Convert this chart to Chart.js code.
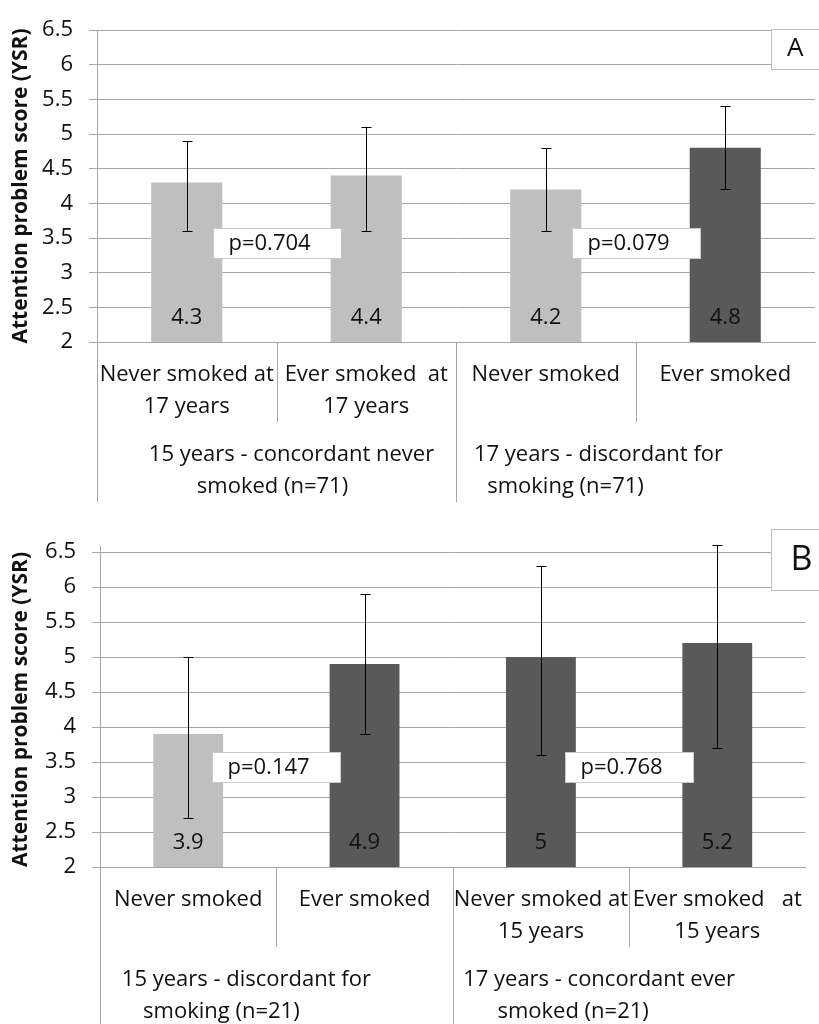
<!DOCTYPE html>
<html><head><meta charset="utf-8">
<script src="https://cdn.jsdelivr.net/npm/chart.js@4"></script>
<style>
html,body{margin:0;padding:0;background:#fff;}
#wrap{position:relative;width:819px;height:1024px;overflow:hidden;background:#fff;}
.panel{position:absolute;left:0;width:819px;height:512px;}
</style></head><body>
<div id="wrap">
<div class="panel" style="top:0"><canvas id="cA" width="819" height="512"></canvas></div>
<div class="panel" style="top:512px"><canvas id="cB" width="819" height="512"></canvas></div>
</div>
<script>
// ---------- data ----------
const yTicks = [2, 2.5, 3, 3.5, 4, 4.5, 5, 5.5, 6, 6.5];
const yTitle = "Attention problem score (YSR)";

const catsA  = [["Never smoked at", "17 years"], ["Ever smoked  at", "17 years"], ["Never smoked"], ["Ever smoked"]];
const meansA = [4.3, 4.4, 4.2, 4.8];
const lowA   = [3.6, 3.6, 3.6, 4.2];
const highA  = [4.9, 5.1, 4.8, 5.4];
const smokedA = [false, false, false, true];
const groupsA = [["15 years - concordant never", "smoked (n=71)"], ["17 years - discordant for", "smoking (n=71)"]];
const pvalsA = ["p=0.704", "p=0.079"];

const catsB  = [["Never smoked"], ["Ever smoked"], ["Never smoked at", "15 years"], ["Ever smoked   at", "15 years"]];
const meansB = [3.9, 4.9, 5, 5.2];
const lowB   = [2.7, 3.9, 3.6, 3.7];
const highB  = [5.0, 5.9, 6.3, 6.6];
const smokedB = [false, true, true, true];
const groupsB = [["15 years - discordant for", "smoking (n=21)"], ["17 years - concordant ever", "smoked (n=21)"]];
const pvalsB = ["p=0.147", "p=0.768"];

// ---------- style ----------
const FAM = "'Open Sans', 'Noto Sans', sans-serif";
const LIGHT = '#bfbfbf', DARK = '#595959', GRID = '#a6a6a6', TXT = '#111';
const P_LEVEL = 3.43;

function panelPlugin(p) {
  return {
    id: 'panel' + p.letter,
    afterDatasetsDraw(chart) {
      const ctx = chart.ctx, xs = chart.scales.x, ys = chart.scales.y;
      const bars = chart.getDatasetMeta(0).data;
      ctx.save();
      // error bars
      ctx.strokeStyle = '#000'; ctx.lineWidth = 1;
      bars.forEach((bar, i) => {
        const bx = Math.round(bar.x) + 0.5;
        const yl = Math.round(ys.getPixelForValue(p.low[i])) + 0.5;
        const yh = Math.round(ys.getPixelForValue(p.high[i])) + 0.5;
        ctx.beginPath();
        ctx.moveTo(bx, yl); ctx.lineTo(bx, yh);
        ctx.moveTo(bx - 5, yl); ctx.lineTo(bx + 5, yl);
        ctx.moveTo(bx - 5, yh); ctx.lineTo(bx + 5, yh);
        ctx.stroke();
      });
      // value labels
      ctx.fillStyle = TXT; ctx.font = '22px ' + FAM;
      ctx.textAlign = 'center'; ctx.textBaseline = 'middle';
      bars.forEach((bar, i) => ctx.fillText(String(p.means[i]), bar.x, ys.bottom - 24));
      // p-value boxes
      for (let g = 0; g < 2; g++) {
        const cx = (bars[2 * g].x + bars[2 * g + 1].x) / 2;
        const cy = ys.getPixelForValue(P_LEVEL);
        const w = 128, h = 30;
        const lx = Math.round(cx - w / 2) + 0.5, ty = Math.round(cy - h / 2) + 0.5;
        ctx.fillStyle = '#fff'; ctx.fillRect(lx, ty, w, h);
        ctx.strokeStyle = '#c8c8c8'; ctx.strokeRect(lx, ty, w, h);
        ctx.fillStyle = TXT; ctx.textAlign = 'left';
        ctx.fillText(p.pvals[g], lx + 15, cy + 1);
      }
      ctx.restore();
    },
    afterDraw(chart) {
      const ctx = chart.ctx, xs = chart.scales.x, ys = chart.scales.y;
      const half = (xs.getPixelForValue(1) - xs.getPixelForValue(0)) / 2;
      ctx.save();
      ctx.strokeStyle = GRID; ctx.lineWidth = 1;
      const bottom = chart.height;
      ctx.beginPath();
      const lx = Math.round(xs.left) + 0.5;
      ctx.moveTo(lx, ys.top - p.axisExtra); ctx.lineTo(lx, bottom - p.bottomGap);
      for (let i = 1; i < 4; i++) {
        const bx = Math.round(xs.getPixelForValue(i) - half) + 0.5;
        ctx.moveTo(bx, ys.bottom);
        ctx.lineTo(bx, i === 2 ? bottom - p.bottomGap : ys.bottom + 80);
      }
      ctx.stroke();
      // group labels
      ctx.fillStyle = TXT; ctx.font = '22px ' + FAM;
      ctx.textAlign = 'center'; ctx.textBaseline = 'middle';
      for (let g = 0; g < 2; g++) {
        const cx = (xs.getPixelForValue(2 * g) + xs.getPixelForValue(2 * g + 1)) / 2;
        p.groups[g].forEach((line, k) => {
          ctx.fillText(line, cx + p.groupOffsets[g][k], ys.bottom + 113 + 32 * k);
        });
      }
      // panel letter box
      const b = p.letterBox;
      ctx.fillStyle = '#fff';
      ctx.fillRect(xs.right + b.dx, ys.top + b.dy, 80, b.h);
      ctx.strokeStyle = '#bfbfbf';
      ctx.strokeRect(Math.round(xs.right + b.dx) + 0.5, Math.round(ys.top + b.dy) + 0.5, 80, b.h);
      ctx.fillStyle = TXT; ctx.font = b.size + 'px ' + FAM;
      ctx.textAlign = 'left';
      ctx.fillText(p.letter, xs.right + b.tx, ys.top + b.ty);
      ctx.restore();
    }
  };
}

function makeChart(id, p) {
  return new Chart(document.getElementById(id), {
    type: 'bar',
    data: {
      labels: p.cats,
      datasets: [{
        data: p.means,
        backgroundColor: p.smoked.map(s => s ? DARK : LIGHT),
        borderWidth: 0,
        barPercentage: 0.396,
        categoryPercentage: 1
      }]
    },
    options: {
      responsive: false,
      animation: false,
      devicePixelRatio: 1,
      layout: { padding: { top: p.padTop, right: p.padRight, left: 0, bottom: 0 } },
      plugins: { legend: { display: false }, tooltip: { enabled: false } },
      scales: {
        x: {
          type: 'category',
          offset: true,
          grid: { display: false, drawTicks: false },
          border: { display: true, color: GRID },
          ticks: {
            font: { family: FAM, size: 22, lineHeight: '32px' },
            color: TXT, padding: 17, maxRotation: 0, minRotation: 0, autoSkip: false
          },
          afterFit: s => { s.height = p.xAxisH; }
        },
        y: {
          min: 2, max: 6.5,
          afterBuildTicks: s => { s.ticks = yTicks.map(v => ({ value: v })); },
          grid: { color: GRID, tickLength: 8, drawTicks: true },
          border: { display: true, color: GRID },
          ticks: { font: { family: FAM, size: 22 }, color: TXT, padding: 16, callback: v => String(v) },
          title: { display: true, text: yTitle, color: TXT,
                   font: { family: FAM, size: 21, weight: 'bold' }, padding: { top: 8, bottom: 0 } },
          afterFit: s => { s.width = p.axisW; }
        }
      }
    },
    plugins: [panelPlugin(p)]
  });
}

makeChart('cA', {
  letter: 'A', cats: catsA, means: meansA, low: lowA, high: highA, smoked: smokedA,
  groups: groupsA, pvals: pvalsA,
  groupOffsets: [[15, -4], [-37, -70]],
  padTop: 30, padRight: 4, xAxisH: 170, axisW: 97, axisExtra: 0, bottomGap: 10,
  letterBox: { dx: -44, dy: -1, h: 40, tx: -28, ty: 19, size: 26 }
});
makeChart('cB', {
  letter: 'B', cats: catsB, means: meansB, low: lowB, high: highB, smoked: smokedB,
  groups: groupsB, pvals: pvalsB,
  groupOffsets: [[-30, -55], [-30, -56]],
  padTop: 40, padRight: 2, xAxisH: 157, axisW: 100, axisExtra: 6, bottomGap: 0,
  letterBox: { dx: -34, dy: -23, h: 61, tx: -15, ty: 8, size: 34 }
});
</script>
</body></html>
